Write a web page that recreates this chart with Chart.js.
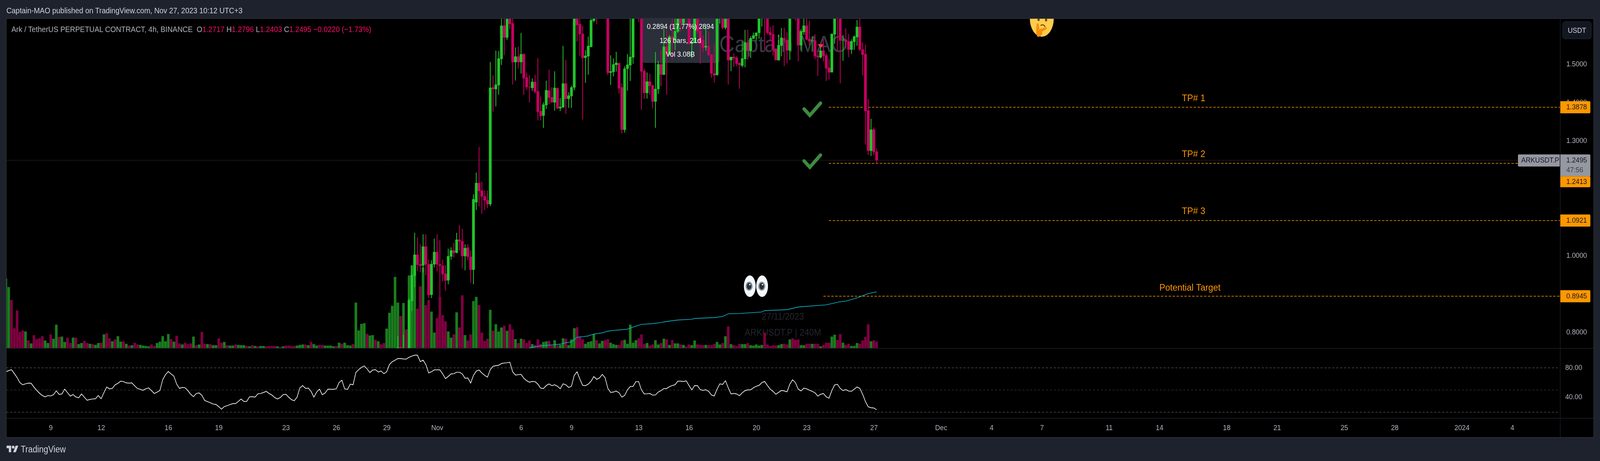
<!DOCTYPE html>
<html>
<head>
<meta charset="utf-8">
<script src="https://cdn.jsdelivr.net/npm/chart.js@4/dist/chart.umd.js"></script>
<style>
html,body{margin:0;padding:0;background:#1e222d;width:100%;height:1180px;overflow:hidden;font-family:"Liberation Sans",sans-serif}
.a{position:absolute;white-space:pre}
.stage{position:absolute;left:0;top:0;width:4486px;height:1180px;transform-origin:0 0}
canvas{position:absolute}
</style>
</head>
<body>
<div class="stage" id="under"><div class="a" style="left:18px;top:48px;width:4450px;height:1071px;background:#000"></div></div>
<canvas id="main" width="4450" height="844" style="top:48px;height:844px"></canvas>
<canvas id="osc" width="4450" height="227" style="top:892px;height:227px"></canvas>
<div class="stage" id="over">
<div class="a" style="left:16px;top:46px;width:4452px;height:2px;background:#2a2e39"></div>
<div class="a" style="left:16px;top:46px;width:2px;height:1075px;background:#2a2e39"></div>
<div class="a" style="left:16px;top:1119px;width:4454px;height:2px;background:#2a2e39"></div>
<div class="a" style="left:4468px;top:46px;width:2px;height:1075px;background:#2a2e39"></div>
<div class="a" style="left:4374px;top:48px;width:1px;height:1071px;background:#2a2e39"></div>
<div class="a" style="left:18px;top:891px;width:4450px;height:1px;background:#2a2e39"></div>
<div class="a" style="left:18px;top:1070px;width:4450px;height:1px;background:#2a2e39"></div>
<div class="a" id="pub" style="left:18px;top:14px;font-size:20.3px;line-height:26px;color:#d1d4dc">Captain-MAO published on TradingView.com, Nov 27, 2023 10:12 UTC+3</div>
<div class="a" id="leg" style="left:32px;top:62px;font-size:20.3px;line-height:26px;color:#b2b5be">Ark / TetherUS PERPETUAL CONTRACT, 4h, BINANCE  O<span style="color:#ff0a6c">1.2717</span> H<span style="color:#ff0a6c">1.2796</span> L<span style="color:#ff0a6c">1.2403</span> C<span style="color:#ff0a6c">1.2495</span> <span style="color:#ff0a6c">−0.0220 (−1.73%)</span></div>
<div class="a" style="left:4381px;top:55px;width:79px;height:43px;background:#131722;border:1px solid #2a2e39;border-radius:7px;color:#d1d4dc;font-size:19px;line-height:43px;text-align:center">USDT</div>
<svg class="a" style="left:18px;top:1137px" width="34" height="26" viewBox="0 0 36 28"><path fill="#d1d4dc" d="M14 22H7V11H0V4h14v18zM28 22h-8l7.5-18h8L28 22z"/><circle fill="#d1d4dc" cx="20" cy="8" r="4"/></svg>
<div class="a" style="left:58px;top:1136px;font-size:23px;line-height:29px;color:#d1d4dc">TradingView</div>
</div>
<script>
const volume=[
192,168,132,54,103,44,48,45,20,12,
35,24,26,32,20,13,37,25,64,30,
31,16,28,13,28,28,10,13,19,13,
11,10,8,13,14,37,40,26,18,23,
32,17,18,11,6,7,14,9,8,6,
5,4,9,5,13,17,32,18,38,24,
17,33,12,9,14,10,12,31,7,9,
44,11,10,10,7,7,26,14,16,7,
6,6,9,8,7,7,5,4,7,5,
4,5,5,4,5,5,5,4,2,4,
6,6,5,5,6,8,9,9,7,16,
10,6,8,8,6,6,6,4,5,14,
11,14,7,6,10,125,48,66,68,38,
34,35,22,18,9,13,53,97,116,196,
125,88,124,51,200,228,222,108,170,222,
118,132,100,42,82,140,90,73,45,28,
37,98,56,145,35,20,37,129,141,118,
42,19,25,105,47,65,45,56,61,47,
65,50,24,13,25,23,13,20,10,7,
23,10,16,18,19,6,21,7,8,26,
25,7,23,54,57,31,23,11,16,18,
38,21,12,19,21,24,14,10,8,8,
20,22,11,64,14,21,26,37,10,13,
6,9,21,9,13,25,23,8,21,12,
12,9,8,4,9,7,20,9,8,7,
8,7,7,10,16,9,13,32,59,10,
7,5,11,10,10,13,7,6,9,6,
8,42,9,5,7,6,7,10,11,9,
23,26,22,23,7,7,11,11,11,11,
11,4,8,14,14,31,36,22,38,14,
8,11,5,5,13,11,20,30,65,18,
21,17];
const volumeUp=[
1,1,0,0,0,0,0,1,0,1,
0,0,0,0,1,1,0,1,1,0,
1,1,0,0,1,0,1,1,0,0,
1,0,1,1,0,1,0,0,1,0,
1,1,0,1,0,1,0,0,1,1,
1,1,0,0,1,1,1,1,1,0,
1,0,0,1,0,0,0,1,0,1,
0,0,1,0,1,1,0,0,1,0,
1,1,0,1,1,1,0,1,0,1,
0,1,1,0,0,0,0,1,0,1,
0,0,0,0,1,1,1,0,1,0,
1,1,0,0,1,1,1,1,0,1,
0,1,1,1,0,1,1,1,1,0,
1,1,0,1,0,0,1,1,1,1,
1,0,1,0,1,1,1,0,0,1,
0,0,1,1,0,0,0,0,1,1,
0,1,0,0,1,0,0,1,1,0,
0,0,0,1,0,1,1,1,0,1,
0,0,1,0,1,0,0,0,1,0,
0,0,1,1,0,0,1,0,1,1,
0,1,1,1,0,0,0,1,1,1,
1,0,1,1,0,0,1,1,1,0,
0,1,1,1,1,1,0,0,0,1,
0,0,1,1,0,1,0,1,0,1,
1,0,1,0,0,1,1,0,0,0,
1,0,0,0,1,1,0,1,0,1,
0,0,0,1,1,0,1,1,1,1,
1,0,0,0,0,0,1,1,0,0,
1,0,0,0,1,1,0,0,1,0,
0,1,0,0,0,1,1,0,0,1,
0,0,1,1,1,0,0,0,0,1,
0,0];
const rsi=[
74.7,76.3,77.6,72.3,66.9,60.0,57.1,58.4,59.4,59.2,
54.1,49.6,45.7,42.7,40.8,42.5,42.0,43.7,49.0,44.1,
44.7,51.2,46.5,41.8,43.9,40.6,39.4,44.7,40.4,36.1,
37.3,37.9,38.2,42.5,38.2,46.3,54.1,51.6,52.2,57.1,
59.0,62.0,61.4,59.6,59.4,59.6,55.7,52.0,51.0,49.6,
51.8,52.8,49.2,45.3,47.1,49.4,63.9,70.8,75.1,71.8,
68.8,58.0,52.2,53.5,53.1,49.2,44.3,41.0,45.3,46.1,
42.9,35.9,34.3,32.9,31.0,30.6,27.6,24.1,27.6,28.8,
30.2,31.6,31.6,34.5,37.9,34.5,34.5,40.8,41.0,40.4,
44.9,45.3,46.7,48.2,45.3,43.3,39.8,37.9,39.8,43.7,
44.3,40.4,37.0,35.5,40.4,52.8,56.1,52.2,52.6,48.2,
40.4,47.3,51.2,43.7,45.9,51.2,51.0,51.0,51.6,60.0,
63.3,51.6,50.8,58.0,57.1,73.7,77.6,80.6,82.6,78.6,
73.7,77.1,77.6,74.3,75.7,72.1,74.7,84.5,88.4,90.4,
92.7,92.5,92.0,91.8,94.3,95.9,97.1,97.1,88.4,90.4,
84.5,73.1,74.7,77.3,77.3,77.3,71.8,65.5,68.4,71.8,
72.1,74.1,74.1,71.8,65.9,66.3,59.4,69.8,75.7,77.1,
73.1,69.8,67.5,77.6,82.2,82.9,83.5,85.9,86.5,86.9,
87.6,74.7,70.2,70.8,71.2,65.9,62.6,60.6,61.6,61.4,
58.0,52.6,52.0,56.1,58.2,55.9,57.1,55.1,51.8,58.4,
57.1,53.5,55.1,69.8,74.7,64.9,56.3,55.9,58.0,62.0,
68.2,64.5,66.3,71.2,66.9,52.2,46.7,47.3,48.6,46.3,
40.4,42.7,50.2,54.7,54.9,61.4,61.4,50.2,44.7,44.9,
45.3,43.1,43.3,47.3,49.2,52.0,52.0,54.5,56.1,57.1,
62.0,62.0,61.6,62.4,56.1,50.2,56.1,55.9,50.6,49.6,
50.4,48.2,43.3,41.9,51.2,58.4,57.6,62.6,53.1,44.7,
45.3,44.7,42.3,46.3,49.2,50.2,50.2,53.1,55.1,56.3,
60.0,61.6,56.1,51.2,48.2,44.3,46.9,49.4,48.8,47.6,
58.0,63.9,60.0,51.2,48.8,52.6,51.6,49.8,48.2,46.3,
41.8,44.3,45.3,40.8,39.0,49.2,56.9,57.8,52.2,49.2,
50.6,48.6,48.2,51.2,54.1,52.2,44.3,34.5,27.3,26.1,
25.7,23.3];
// candle rows start at this bar index; earlier bars sit below the visible price range
const firstCandle=140;
const ohlc=[
[.74,.7902,.72,.7606],[.7608,.764,.72,.74],[.73,.7939,.71,.75],[.75,.757,.71,.73],
[.74,.8889,.72,.8837],[.8825,.9745,.8561,.9496],[.9485,1.06,.9183,1.0028],[1.0028,1.048,.96,.9768],
[.9779,1.0295,.958,.9745],[.9749,1.056,.9569,1.0243],[1.0243,1.056,.95,.9779],[.9779,.99,.89,.8976],
[.8984,.988,.8901,.9787],[.9779,1.0446,.97,1.01],[1.01,1.056,.96,.9779],[.9779,1.04,.8919,.9741],
[.9741,.99,.934,.9523],[.953,.9749,.9089,.9353],[.9361,1.0183,.9259,.9987],[.9983,1.022,.99,1.0141],
[1.0141,1.0333,.9956,1.0081],[1.0081,1.06,1.0069,1.042],[1.042,1.08,1.0145,1.0382],[1.0382,1.07,.9674,.9994],
[.9994,1.0296,.9625,1.0201],[1.0213,1.0303,.99,.9975],[.9975,1.0134,.9297,.9636],[.9636,1.16,.9259,1.1477],
[1.14,1.217,1.12,1.19],[1.19,1.2837,1.13,1.17],[1.17,1.1936,1.11,1.155],[1.155,1.17,1.12,1.145],
[1.145,1.17,1.125,1.135],[1.135,1.5058,1.13,1.4385],[1.4395,1.4711,1.3762,1.4354],[1.4354,1.5354,1.3905,1.4466],
[1.4456,1.5343,1.4211,1.515],[1.5139,1.63,1.4986,1.6006],[1.6006,1.65,1.5241,1.57],[1.57,1.64,1.5639,1.618],
[1.65,1.66,1.5925,1.6057],[1.6068,1.63,1.4476,1.5058],[1.5058,1.5435,1.4578,1.5201],[1.5201,1.5456,1.4895,1.5058],
[1.5058,1.5813,1.4762,1.5262],[1.5262,1.5282,1.4211,1.464],[1.465,1.4782,1.4334,1.4405],[1.4405,1.4711,1.4007,1.44],
[1.4385,1.4629,1.4313,1.4538],[1.4538,1.4721,1.4242,1.4283],[1.4293,1.516,1.3538,1.3762],[1.3773,1.416,1.3538,1.365],
[1.366,1.4007,1.3344,1.3946],[1.3936,1.4568,1.3834,1.4323],[1.4313,1.4854,1.3966,1.413],[1.414,1.4395,1.4007,1.4007],
[1.4007,1.4813,1.3793,1.4385],[1.4374,1.4385,1.3834,1.3854],[1.3854,1.4119,1.3783,1.3885],[1.3875,1.5476,1.3875,1.4497],
[1.4497,1.5109,1.3711,1.4099],[1.4099,1.4262,1.3864,1.4181],[1.417,1.4436,1.3864,1.4395],[1.4395,1.66,1.4323,1.64],
[1.65,1.66,1.5598,1.6027],[1.6047,1.625,1.5221,1.5792],[1.5792,1.5996,1.3558,1.517],[1.517,1.5364,1.4517,1.5221],
[1.5211,1.5721,1.4731,1.5476],[1.5456,1.63,1.5445,1.6149],[1.6139,1.64,1.6098,1.63],[1.66,1.67,1.6047,1.625],
[1.64,1.70,1.63,1.67],[1.67,1.72,1.65,1.70],[1.70,1.72,1.64,1.65],[1.65,1.66,1.4721,1.4782],
[1.4782,1.5231,1.4466,1.4813],[1.4803,1.515,1.4691,1.4997],[1.4986,1.5323,1.4813,1.5037],[1.5027,1.5037,1.4242,1.4374],
[1.4395,1.4497,1.3201,1.3293],[1.3293,1.4946,1.3222,1.4884],[1.4884,1.5262,1.4313,1.4986],[1.4976,1.63,1.4568,1.519],
[1.518,1.65,1.5017,1.64],[1.64,1.70,1.63,1.68],[1.68,1.70,1.6108,1.65],[1.65,1.66,1.3813,1.4813],
[1.4823,1.4874,1.4099,1.4252],[1.4252,1.4782,1.4109,1.4548],[1.4548,1.4752,1.4211,1.4436],[1.4446,1.4456,1.3854,1.4028],
[1.4028,1.5313,1.3344,1.4354],[1.4354,1.5088,1.4232,1.4997],[1.4997,1.5364,1.4436,1.4731],[1.4731,1.5925,1.4721,1.5456],
[1.5456,1.5898,1.4211,1.5255],[1.5255,1.5762,1.5245,1.5721],[1.5721,1.62,1.5136,1.5653],[1.5646,1.625,1.5374,1.5864],
[1.5857,1.64,1.5823,1.63],[1.635,1.64,1.5867,1.6078],[1.6078,1.65,1.6054,1.64],[1.66,1.68,1.63,1.65],
[1.65,1.66,1.5517,1.5537],[1.5537,1.56,1.516,1.5578],[1.5564,1.64,1.5564,1.63],[1.64,1.65,1.58,1.5864],
[1.5874,1.60,1.5017,1.5534],[1.5629,1.5748,1.5323,1.5435],[1.5445,1.5986,1.5364,1.5476],[1.5466,1.585,1.5231,1.5241],
[1.5252,1.5252,1.465,1.4762],[1.4762,1.5537,1.4527,1.4711],[1.4721,1.65,1.4711,1.64],[1.64,1.68,1.6068,1.66],
[1.65,1.66,1.5915,1.5955],[1.5955,1.66,1.5915,1.65],[1.65,1.66,1.4476,1.5109],[1.5109,1.519,1.4823,1.519],
[1.519,1.5282,1.4935,1.516],[1.517,1.5211,1.4956,1.5017],[1.5027,1.5047,1.4364,1.4986],[1.4966,1.5595,1.4925,1.515],
[1.5139,1.5894,1.4925,1.5568],[1.5568,1.5904,1.5119,1.5354],[1.5354,1.5731,1.517,1.568],[1.567,1.5823,1.567,1.5751],
[1.5741,1.5823,1.5609,1.5823],[1.5823,1.64,1.567,1.63],[1.63,1.66,1.5986,1.65],[1.65,1.67,1.534,1.64],
[1.64,1.65,1.5782,1.5823],[1.5833,1.5976,1.5609,1.5772],[1.5782,1.6017,1.5231,1.5394],[1.5405,1.5405,1.5109,1.5109],
[1.5109,1.5772,1.5099,1.5496],[1.5486,1.5945,1.5211,1.569],[1.568,1.5955,1.4956,1.5619],[1.5619,1.5833,1.5027,1.5364],
[1.5364,1.65,1.5119,1.64],[1.66,1.68,1.63,1.64],[1.65,1.66,1.6139,1.64],[1.65,1.66,1.5078,1.5496],
[1.5496,1.5915,1.5374,1.5864],[1.5843,1.63,1.5772,1.6006],[1.6006,1.63,1.5629,1.5649],[1.566,1.6139,1.5486,1.5598],
[1.5609,1.5721,1.5333,1.5619],[1.5619,1.5782,1.5139,1.5211],[1.5221,1.5374,1.4701,1.519],[1.518,1.5476,1.516,1.5354],
[1.5354,1.5663,1.5078,1.5221],[1.5231,1.5282,1.4568,1.4895],[1.4905,1.5139,1.4609,1.4793],[1.4793,1.5792,1.4793,1.5792],
[1.5782,1.65,1.5537,1.64],[1.66,1.68,1.5354,1.65],[1.65,1.66,1.4507,1.5619],[1.5629,1.5762,1.5099,1.5639],
[1.5639,1.5935,1.5415,1.5588],[1.5598,1.5782,1.519,1.5384],[1.5384,1.5649,1.5272,1.5598],[1.5588,1.5751,1.5384,1.5721],
[1.5711,1.6149,1.5486,1.5976],[1.5976,1.625,1.5343,1.5384],[1.5384,1.5568,1.4711,1.5252],[1.5262,1.5507,1.2905,1.3783],
[1.3793,1.4089,1.2633,1.2742],[1.2742,1.3578,1.2609,1.3293],[1.3293,1.3347,1.2633,1.2711],[1.2717,1.2796,1.2403,1.2495]
];
const tealBars=[187,191,195,198,200,202,204,206,208,210,213,215,217,219,222,224,227,231,234,236,240,245,246,253,256,258,262,270,271,279,283,293,298,300,304,308,311];
const tealValues=[.76,.7649,.7675,.7694,.7732,.7751,.7875,.789,.7909,.7958,.7988,.8034,.8052,.8064,.8086,.8139,.8211,.823,.826,.8286,.8324,.8343,.8365,.8388,.8418,.8486,.8494,.8535,.8569,.8595,.8663,.872,.8803,.8818,.8901,.9014,.9059];
const tickDays=[0,3,7,10,14,17,20,23,28,31,35,38,42,45,49,53,56,59,63,66,70,73,77,80,84,87];
const tickLabels=['9','12','16','19','23','26','29','Nov','6','9','13','16','20','23','27','Dec','4','7','11','14','18','21','25','28','2024','4'];
const priceTicks=[.8,1,1.3,1.4,1.5];
const rsiTicks=[40,80];
const rsiBands=[80,50,20];
const lastPrice=1.2495;
const targetLevels=[1.3878,1.2413,1.0921,.8945];
const targetStart=[293.9,293.9,293.9,292];
const targetNames=['TP# 1','TP# 2','TP# 3','Potential Target'];
const targetNameAt=[[424.2,1.4109],[424.2,1.265],[424.2,1.1161],[422.9,.9155]];

// the browser window may be narrower than the 4486-wide reference: fit it horizontally
const sx=Math.min(1,window.innerWidth/4486);
document.querySelectorAll('.stage').forEach(e=>{e.style.transform='scaleX('+sx+')'});
const xMin=0.127, xMax=555.1;
const GREEN='#22c52c', RED='#c60060', VGREEN='#1a7d1e', VRED='#7f0040', ORANGE='#ff9800';
const FONT='"Liberation Sans",sans-serif';
const firstTickBar=16.06;
const tickBars=tickDays.map(d=>firstTickBar+6*d);

const bodies=ohlc.map((r,i)=>({x:firstCandle+i,y:[Math.min(r[0],r[3]),Math.max(r[0],r[3])]}));
const wicks=ohlc.map((r,i)=>({x:firstCandle+i,y:[r[2],r[1]]}));
const candleCol=ohlc.map(r=>r[3]>=r[0]?GREEN:RED);

function lineDs(data,yAxisID,color,width,dash,order){
  return {type:'line',data,yAxisID,borderColor:color,borderWidth:width,borderDash:dash||[],pointRadius:0,tension:0,fill:false,order,clip:true};
}
const noPadY=s=>{s.width=93.4;s.paddingTop=0;s.paddingBottom=0;};
const overlay={
  id:'overlay',
  beforeDatasetsDraw(c){
    const g=c.ctx,X=v=>c.scales.x.getPixelForValue(v),Y=v=>c.scales.y.getPixelForValue(v);
    g.save();
    g.fillStyle='#2b2f3a';
    const bx0=X(227.3),bx1=X(254.9),by1=Y(1.5037);
    g.beginPath();g.roundRect(bx0,-8,bx1-bx0,by1+8,6);g.fill();
    g.textAlign='center';g.textBaseline='middle';
    g.fillStyle='#363a45';g.font='60px '+FONT;
    g.fillText('Captain MAO',X(277.7),Y(1.5486));
    g.fillStyle='#24272f';g.font='24px '+FONT;
    g.fillText('27/11/2023',X(277.5),Y(.8401));
    g.fillText('ARKUSDT.P | 240M',X(277.5),Y(.7982));
    g.restore();
  },
  afterDatasetsDraw(c){
    const g=c.ctx,X=v=>c.scales.x.getPixelForValue(v),Y=v=>c.scales.y.getPixelForValue(v);
    g.save();
    g.textAlign='center';g.textBaseline='middle';
    g.fillStyle='#fff';g.font='19px '+FONT;
    g.fillText('0.2894 (17.77%) 2894',X(240.9),Y(1.5975));
    g.fillText('126 bars, 21d',X(240.9),Y(1.5608));
    g.fillText('Vol 3.08B',X(240.9),Y(1.5251));
    g.fillStyle=ORANGE;g.font='24.7px '+FONT;
    targetNames.forEach((t,i)=>g.fillText(t,X(targetNameAt[i][0]),Y(targetNameAt[i][1])));
    [1.3843,1.2487].forEach(p=>{
      const x=X(287.9),y=Y(p);
      g.strokeStyle='#3b8c40';g.lineWidth=9;g.lineJoin='miter';g.lineCap='round';
      g.beginPath();g.moveTo(x-22,y+1);g.lineTo(x-6,y+17);g.lineTo(x+24,y-14);g.stroke();
    });
    let tx=X(291),ty=Y(1.5475);
    g.fillStyle='#e53a45';
    g.beginPath();g.moveTo(tx-8,ty-5);g.lineTo(tx+8,ty-5);g.lineTo(tx,ty+6);g.closePath();g.fill();
    const fx=X(370),fy=Y(1.6189);
    g.fillStyle='#ffcc4d';g.beginPath();g.ellipse(fx,fy,33.5,46,0,0,Math.PI*2);g.fill();
    g.fillStyle='#664500';
    g.beginPath();g.ellipse(fx-9,fy+2,3,4,0,0,Math.PI*2);g.fill();
    g.beginPath();g.ellipse(fx+12,fy+3,3,4,0,0,Math.PI*2);g.fill();
    g.strokeStyle='#664500';g.lineWidth=2.5;
    g.beginPath();g.moveTo(fx-3,fy+17);g.quadraticCurveTo(fx+4,fy+13,fx+9,fy+20);g.stroke();
    g.fillStyle='#f4900c';
    g.beginPath();g.moveTo(fx-14,fy+12);g.lineTo(fx-9,fy+12);g.lineTo(fx-7,fy+27);g.lineTo(fx+13,fy+21);g.lineTo(fx+14,fy+26);g.lineTo(fx+1,fy+33);g.lineTo(fx+1,fy+40);g.quadraticCurveTo(fx-8,fy+49,fx-13,fy+45);g.quadraticCurveTo(fx-18,fy+35,fx-14,fy+12);g.fill();
    [[265.7,-2],[270.1,-1]].forEach(e=>{
      const ex=X(e[0]),ey=Y(.9207);
      g.fillStyle='#f5f8fa';g.beginPath();g.ellipse(ex,ey,16.5,27.5,0,0,Math.PI*2);g.fill();
      g.fillStyle='#8899a6';g.beginPath();g.ellipse(ex+e[1],ey,10,11.5,0,0,Math.PI*2);g.fill();
      g.fillStyle='#292f33';g.beginPath();g.ellipse(ex+e[1],ey,6.5,8.5,0,0,Math.PI*2);g.fill();
      g.fillStyle='#f5f8fa';g.beginPath();g.arc(ex+e[1]+2,ey-4,2,0,Math.PI*2);g.fill();
    });
    g.restore();
  },
  afterDraw(c){
    const g=c.ctx,Y=v=>c.scales.y.getPixelForValue(v),R=c.chartArea.right;
    const tag=(txt,yc,h,bg,fg)=>{
      g.fillStyle=bg;g.beginPath();g.roundRect(R,yc-h/2,85,h,[0,3,3,0]);g.fill();
      g.fillStyle=fg;g.fillText(txt,R+17.5,yc+.5);
    };
    g.save();
    g.font='19px '+FONT;g.textAlign='left';g.textBaseline='middle';
    tag('1.3878',Y(targetLevels[0]),31,ORANGE,'#131722');
    tag('1.0921',Y(targetLevels[2]),31,ORANGE,'#131722');
    tag('0.8945',Y(targetLevels[3]),31,ORANGE,'#131722');
    const ly=Y(lastPrice);
    g.fillStyle='#9598a1';
    g.beginPath();g.roundRect(R,ly-15,85,56,[0,3,0,0]);g.fill();
    g.beginPath();g.roundRect(R-118,ly-15,117,31,[3,0,0,3]);g.fill();
    g.fillStyle='#131722';g.fillText(String(lastPrice),R+17.5,ly+.5);
    g.fillText('ARKUSDT.P',R-109,ly+.5);
    g.fillStyle='#3a3d45';g.fillText('47:56',R+17.5,ly+26);
    tag('1.2413',ly+55,28,ORANGE,'#131722');
    g.restore();
  }
};
const hideLegend={legend:{display:false},tooltip:{enabled:false}};

const mainChart=new Chart(document.getElementById('main'),{
  type:'bar',
  plugins:[overlay],
  data:{datasets:[
    {type:'bar',label:'bodies',data:bodies,backgroundColor:candleCol,barThickness:7,grouped:false,yAxisID:'y',order:2},
    {type:'bar',label:'wicks',data:wicks,backgroundColor:candleCol,barThickness:1.5,grouped:false,yAxisID:'y',order:3},
    lineDs(tealBars.map((b,i)=>({x:b,y:tealValues[i]})),'y','#0cb6cc',1.6,null,1),
    ...targetLevels.map((v,i)=>lineDs([{x:targetStart[i],y:v},{x:xMax,y:v}],'y',ORANGE,1.5,[7,4],4)),
    lineDs([{x:xMin,y:lastPrice},{x:xMax,y:lastPrice}],'y','#8b8e96',1,[1,2],5),
    {type:'bar',label:'volume',data:volume.map((v,i)=>({x:i,y:v})),backgroundColor:volumeUp.map(u=>u?VGREEN:VRED),barThickness:6.6,grouped:false,yAxisID:'yv',order:6}
  ]},
  options:{
    responsive:false,maintainAspectRatio:false,devicePixelRatio:1,animation:false,events:[],
    layout:{padding:0},
    plugins:hideLegend,
    scales:{
      x:{type:'linear',min:xMin,max:xMax,offset:false,display:false,grid:{display:false}},
      y:{type:'linear',position:'right',min:.7581,max:1.6189,grid:{display:false,drawTicks:false},border:{display:false},
        afterBuildTicks:s=>{s.ticks=priceTicks.map(v=>({value:v}))},
        afterFit:noPadY,
        ticks:{color:'#b2b5be',font:{family:FONT,size:19},padding:17.5,crossAlign:'near',autoSkip:false,callback:v=>Number(v).toFixed(4)}},
      yv:{type:'linear',position:'left',display:false,min:-1.7,max:910.9,grid:{display:false}}
    }
  }
});

const oscChart=new Chart(document.getElementById('osc'),{
  type:'line',
  data:{datasets:[
    lineDs(rsi.map((v,i)=>({x:i,y:v})),'y','#ffffff',1.7,null,0),
    ...rsiBands.map((b,i)=>lineDs([{x:xMin,y:b},{x:554.3,y:b}],'y',i===1?'#4a4c52':'#787b86',1,[6,5],1))
  ]},
  options:{
    responsive:false,maintainAspectRatio:false,devicePixelRatio:1,animation:false,events:[],
    layout:{padding:0},
    plugins:hideLegend,
    scales:{
      x:{type:'linear',min:xMin,max:xMax,offset:false,grid:{display:false,drawTicks:false},border:{display:false},
        afterBuildTicks:s=>{s.ticks=tickBars.map(v=>({value:v}))},
        afterFit:s=>{s.height=48;s.paddingLeft=0;s.paddingRight=0;},
        ticks:{color:'#b2b5be',font:{family:FONT,size:19},padding:13,maxRotation:0,minRotation:0,autoSkip:false,
          callback:(v,i)=>tickLabels[i]}},
      y:{type:'linear',position:'right',min:11.6,max:106.2,grid:{display:false,drawTicks:false},border:{display:false},
        afterBuildTicks:s=>{s.ticks=rsiTicks.map(v=>({value:v}))},
        afterFit:noPadY,
        ticks:{color:'#b2b5be',font:{family:FONT,size:19},padding:14.5,crossAlign:'near',autoSkip:false,callback:v=>Number(v).toFixed(2)}}
    }
  }
});
// redraw each chart through a horizontal transform so it stays crisp at the narrower window width
[mainChart,oscChart].forEach(ch=>{
  const cv=ch.canvas,w=cv.width;
  cv.width=Math.round(w*sx);
  cv.style.width=cv.width+'px';
  cv.style.left=(18*sx)+'px';
  ch.ctx.setTransform(cv.width/w,0,0,1,0,0);
  ch.draw();
});
</script>
</body>
</html>
